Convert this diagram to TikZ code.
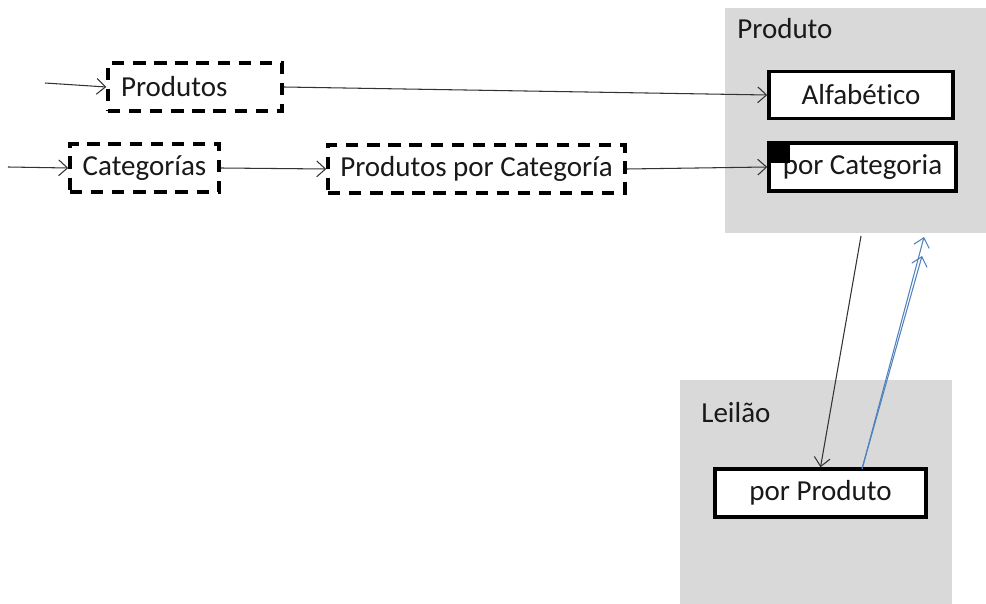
\documentclass[tikz,border=0pt]{standalone}
\usepackage{fontspec}
\setmainfont{Carlito}[Ligatures=NoCommon]
\usetikzlibrary{arrows.meta}
\definecolor{panelgray}{RGB}{217,217,217}
\definecolor{linkblue}{RGB}{79,129,189}
\begin{document}
\begin{tikzpicture}[x=0.02cm,y=-0.02cm,
  >={Straight Barb[length=5pt,width=9pt]},
  txt/.style={font=\fontsize{16.5}{20}\selectfont, text=black!90},
  dashbox/.style={txt, draw, line width=2pt, dash pattern=on 7pt off 5pt, fill=white, minimum height=0.96cm},
  solidbox/.style={txt, draw, line width=2pt, fill=white, minimum height=0.94cm},
  panel/.style={fill=panelgray, inner sep=0pt},
  link/.style={->, black!80, line width=0.6pt}]
\useasboundingbox (0,0) rectangle (986,604);

% panels
\node[panel, minimum width=5.22cm, minimum height=4.5cm] (panelP) at (855.5,120.5) {};
\node[panel, minimum width=5.44cm, minimum height=4.48cm] (panelL) at (816,492) {};
\node[txt, anchor=base west, inner sep=0pt] (labP) at (737,39) {Produto};
\node[txt, anchor=base west, inner sep=0pt] (labL) at (701,422) {Leilão};

% boxes
\node[dashbox, inner xsep=0.26cm, text width=2.96cm, align=left] (prods) at (195,87) {Produtos};
\node[dashbox, minimum width=2.98cm] (cats) at (144.5,168) {Categorías};
\node[dashbox, minimum width=5.94cm] (prodcat) at (476.5,169) {Produtos por Categoría};
\node[solidbox, minimum width=3.68cm] (alfa) at (861,95) {Alfabético};
\node[solidbox, minimum width=3.74cm, minimum height=0.96cm] (pcat) at (862.5,167) {por Categoria};
\node[fill=black, inner sep=0pt, minimum width=0.44cm, minimum height=0.42cm, anchor=north west] (sq) at (pcat.north west) {};
\node[solidbox, minimum width=4.22cm, minimum height=0.96cm] (pprod) at (820.5,493) {por Produto};

% free ends
\coordinate (inP) at (45,83);
\coordinate (inC) at (8,167);
\coordinate (fromP) at (861,236);
\coordinate (fromL) at (862,469);
\coordinate (toP1) at (924,237);
\coordinate (toP2) at (922,256);

% arrows
\draw[link] (inP) -- (prods.west);
\draw[link] (inC) -- (cats.west);
\draw[link] (prods.east) -- (alfa.west);
\draw[link] (cats.east) -- (prodcat.west);
\draw[link] (prodcat.east) -- (pcat.west);
\draw[link] (fromP) -- (pprod.north);
\draw[link, linkblue] (fromL) -- (toP1);
\draw[link, linkblue] (fromL) -- (toP2);
\end{tikzpicture}
\end{document}
